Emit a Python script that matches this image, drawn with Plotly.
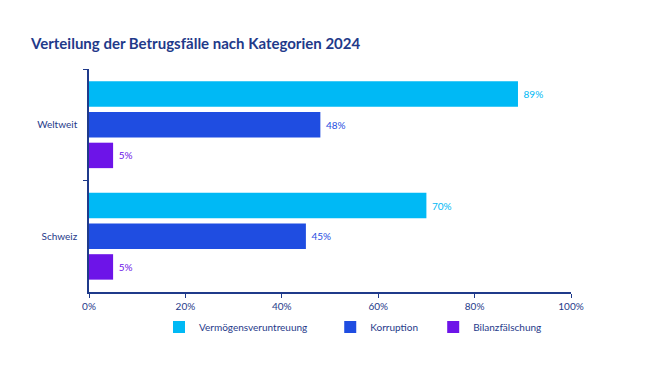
import plotly.graph_objects as go

categories = ["Weltweit", "Schweiz"]
series_names = ["Vermögensveruntreuung", "Korruption", "Bilanzfälschung"]
verm = [89, 70]
korr = [48, 45]
bilanz = [5, 5]
x_ticks = [0, 20, 40, 60, 80, 100]
x_tick_labels = ["0%", "20%", "40%", "60%", "80%", "100%"]

colors = ["#00B9F5", "#1F4DE1", "#6D14E8"]
axis_color = "#1F3A8A"
font_family = "Lato, 'Open Sans', sans-serif"
legend_pad = ["&nbsp;" * 7, "&nbsp;" * 4, ""]

fig = go.Figure()
for name, vals, c, pad in zip(series_names, [verm, korr, bilanz], colors, legend_pad):
    fig.add_trace(go.Bar(
        y=categories, x=vals, name=name + pad, orientation="h",
        marker=dict(color=c, line=dict(width=0)),
        text=[f"&nbsp;{v}%" for v in vals], textposition="outside",
        textfont=dict(color=c, size=10, family=font_family),
        cliponaxis=False,
    ))

fig.update_layout(
    width=660, height=380,
    paper_bgcolor="white", plot_bgcolor="white",
    barmode="group", bargap=0.175, bargroupgap=0.17,
    margin=dict(l=81, r=97, t=61, b=96),
    font=dict(family=font_family, color=axis_color, size=10),
    title=dict(text="<b>Verteilung der Betrugsfälle nach Kategorien 2024</b>",
               x=23 / 660, xref="container", xanchor="left",
               y=1 - 36 / 380, yref="container", yanchor="middle",
               font=dict(size=15, color="#1F3A8A", family=font_family)),
    legend=dict(orientation="h", x=151 / 660, xref="container", xanchor="left",
                y=1 - 319 / 380, yref="container", yanchor="middle",
                font=dict(size=10, color=axis_color), traceorder="normal",
                itemwidth=30, tracegroupgap=0),
    showlegend=True,
)
fig.update_xaxes(range=[0, 100], tickvals=x_ticks, ticktext=x_tick_labels,
                 showgrid=False, zeroline=False, showline=True, linecolor=axis_color,
                 linewidth=1.5, ticks="outside", ticklen=4, tickcolor=axis_color,
                 tickfont=dict(size=10, color=axis_color), automargin=False)
fig.update_yaxes(autorange="reversed", showgrid=False, showline=True, linecolor=axis_color,
                 linewidth=1.5, ticks="outside", ticklen=4, tickcolor=axis_color,
                 tickson="boundaries", tickfont=dict(size=10, color=axis_color),
                 ticklabelstandoff=8, automargin=False)

fig.write_html("out.html")
